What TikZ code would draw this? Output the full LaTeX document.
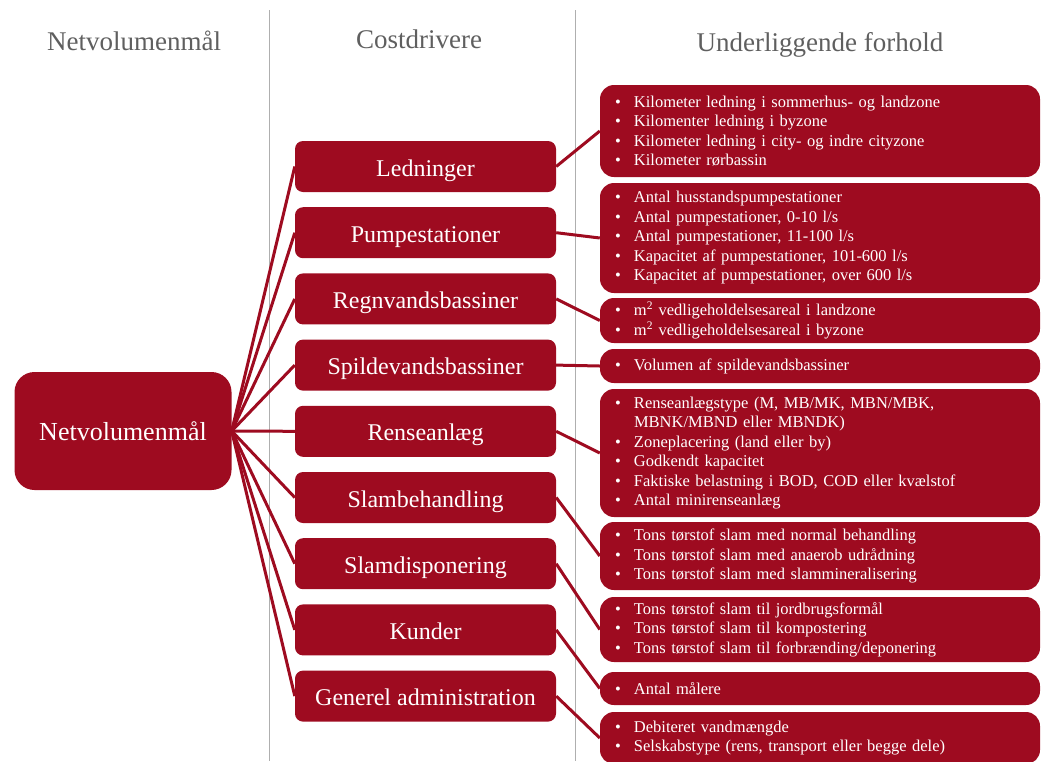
\documentclass[tikz,border=0pt]{standalone}
\usepackage{fontspec}
\setmainfont{Liberation Serif}
\definecolor{dred}{RGB}{158,11,32}
\definecolor{hdrgray}{RGB}{95,95,95}
\definecolor{sepgray}{RGB}{175,175,175}
\newcommand\blt{\makebox[19pt][l]{\textbullet}}
\newcommand\bcont{\hspace*{19pt}}
\begin{document}
\begin{tikzpicture}[x=1pt,y=-1pt,
  hdr/.style={text=hdrgray, font=\fontsize{27}{32}\selectfont, anchor=base, inner sep=0pt},
  mbox/.style={fill=dred, rounded corners=8pt, minimum width=261pt, minimum height=51pt,
    text=white, font=\fontsize{24}{28}\selectfont, inner sep=0pt, text height=24pt, text depth=5pt},
  lbox/.style={fill=dred, rounded corners=20pt, minimum width=217pt, minimum height=118pt,
    text=white, font=\fontsize{26}{30}\selectfont, inner sep=0pt, text height=23pt, text depth=5pt},
  rbox/.style={fill=dred, rounded corners=14pt, minimum width=440pt, text width=410pt,
    align=left, text=white, font=\fontsize{16.5}{19.5}\selectfont, inner xsep=15pt, inner ysep=0pt},
  link/.style={draw=dred, line width=3pt},
  sep/.style={draw=sepgray, line width=1pt}
]
\useasboundingbox (0,0) rectangle (1044,761);
\clip (0,0) rectangle (1044,761);

% separators
\coordinate (s1t) at (269,10); \coordinate (s1b) at (269,761);
\coordinate (s2t) at (575,10); \coordinate (s2b) at (575,761);
\draw[sep] (s1t) -- (s1b);
\draw[sep] (s2t) -- (s2b);

% headers
\node[hdr] (h1) at (134,50) {Netvolumenmål};
\node[hdr] (h2) at (419,48) {Costdrivere};
\node[hdr] (h3) at (820,51) {Underliggende forhold};

% left node
\node[lbox] (nv) at (123,431) {Netvolumenmål};

% middle nodes
\node[mbox] (m1) at (425.5,166.5) {Ledninger};
\node[mbox] (m2) at (425.5,232.7) {Pumpestationer};
\node[mbox] (m3) at (425.5,298.9) {Regnvandsbassiner};
\node[mbox] (m4) at (425.5,365.1) {Spildevandsbassiner};
\node[mbox] (m5) at (425.5,431.3) {Renseanlæg};
\node[mbox] (m6) at (425.5,497.5) {Slambehandling};
\node[mbox] (m7) at (425.5,563.7) {Slamdisponering};
\node[mbox] (m8) at (425.5,629.9) {Kunder};
\node[mbox] (m9) at (425.5,696.1) {Generel administration};

% right nodes
\node[rbox, minimum height=92pt] (r1) at (820,131) {%
\blt Kilometer ledning i sommerhus- og landzone\\
\blt Kilomenter ledning i byzone\\
\blt Kilometer ledning i city- og indre cityzone\\
\blt Kilometer rørbassin};
\node[rbox, minimum height=110pt] (r2) at (820,238) {%
\blt Antal husstandspumpestationer\\
\blt Antal pumpestationer, 0-10 l/s\\
\blt Antal pumpestationer, 11-100 l/s\\
\blt Kapacitet af pumpestationer, 101-600 l/s\\
\blt Kapacitet af pumpestationer, over 600 l/s};
\node[rbox, minimum height=45pt] (r3) at (820,320.5) {%
\blt m\textsuperscript{2} vedligeholdelsesareal i landzone\\
\blt m\textsuperscript{2} vedligeholdelsesareal i byzone};
\node[rbox, minimum height=34pt] (r4) at (820,366) {%
\blt Volumen af spildevandsbassiner};
\node[rbox, minimum height=128pt] (r5) at (820,453) {%
\blt Renseanlægstype (M, MB/MK, MBN/MBK,\\
\bcont MBNK/MBND eller MBNDK)\\
\blt Zoneplacering (land eller by)\\
\blt Godkendt kapacitet\\
\blt Faktiske belastning i BOD, COD eller kvælstof\\
\blt Antal minirenseanlæg};
\node[rbox, minimum height=68pt] (r6) at (820,556) {%
\blt Tons tørstof slam med normal behandling\\
\blt Tons tørstof slam med anaerob udrådning\\
\blt Tons tørstof slam med slammineralisering};
\node[rbox, minimum height=65pt] (r7) at (820,629.5) {%
\blt Tons tørstof slam til jordbrugsformål\\
\blt Tons tørstof slam til kompostering\\
\blt Tons tørstof slam til forbrænding/deponering};
\node[rbox, minimum height=33pt] (r8) at (820,688.5) {%
\blt Antal målere};
\node[rbox, minimum height=52pt] (r9) at (820,738) {%
\blt Debiteret vandmængde\\
\blt Selskabstype (rens, transport eller begge dele)};

% connectors left -> middle
\foreach \i in {1,...,9} {
  \draw[link] (nv.east) -- (m\i.west);
}
% connectors middle -> right
\foreach \i in {1,...,9} {
  \draw[link] (m\i.east) -- (r\i.west);
}
\end{tikzpicture}
\end{document}
